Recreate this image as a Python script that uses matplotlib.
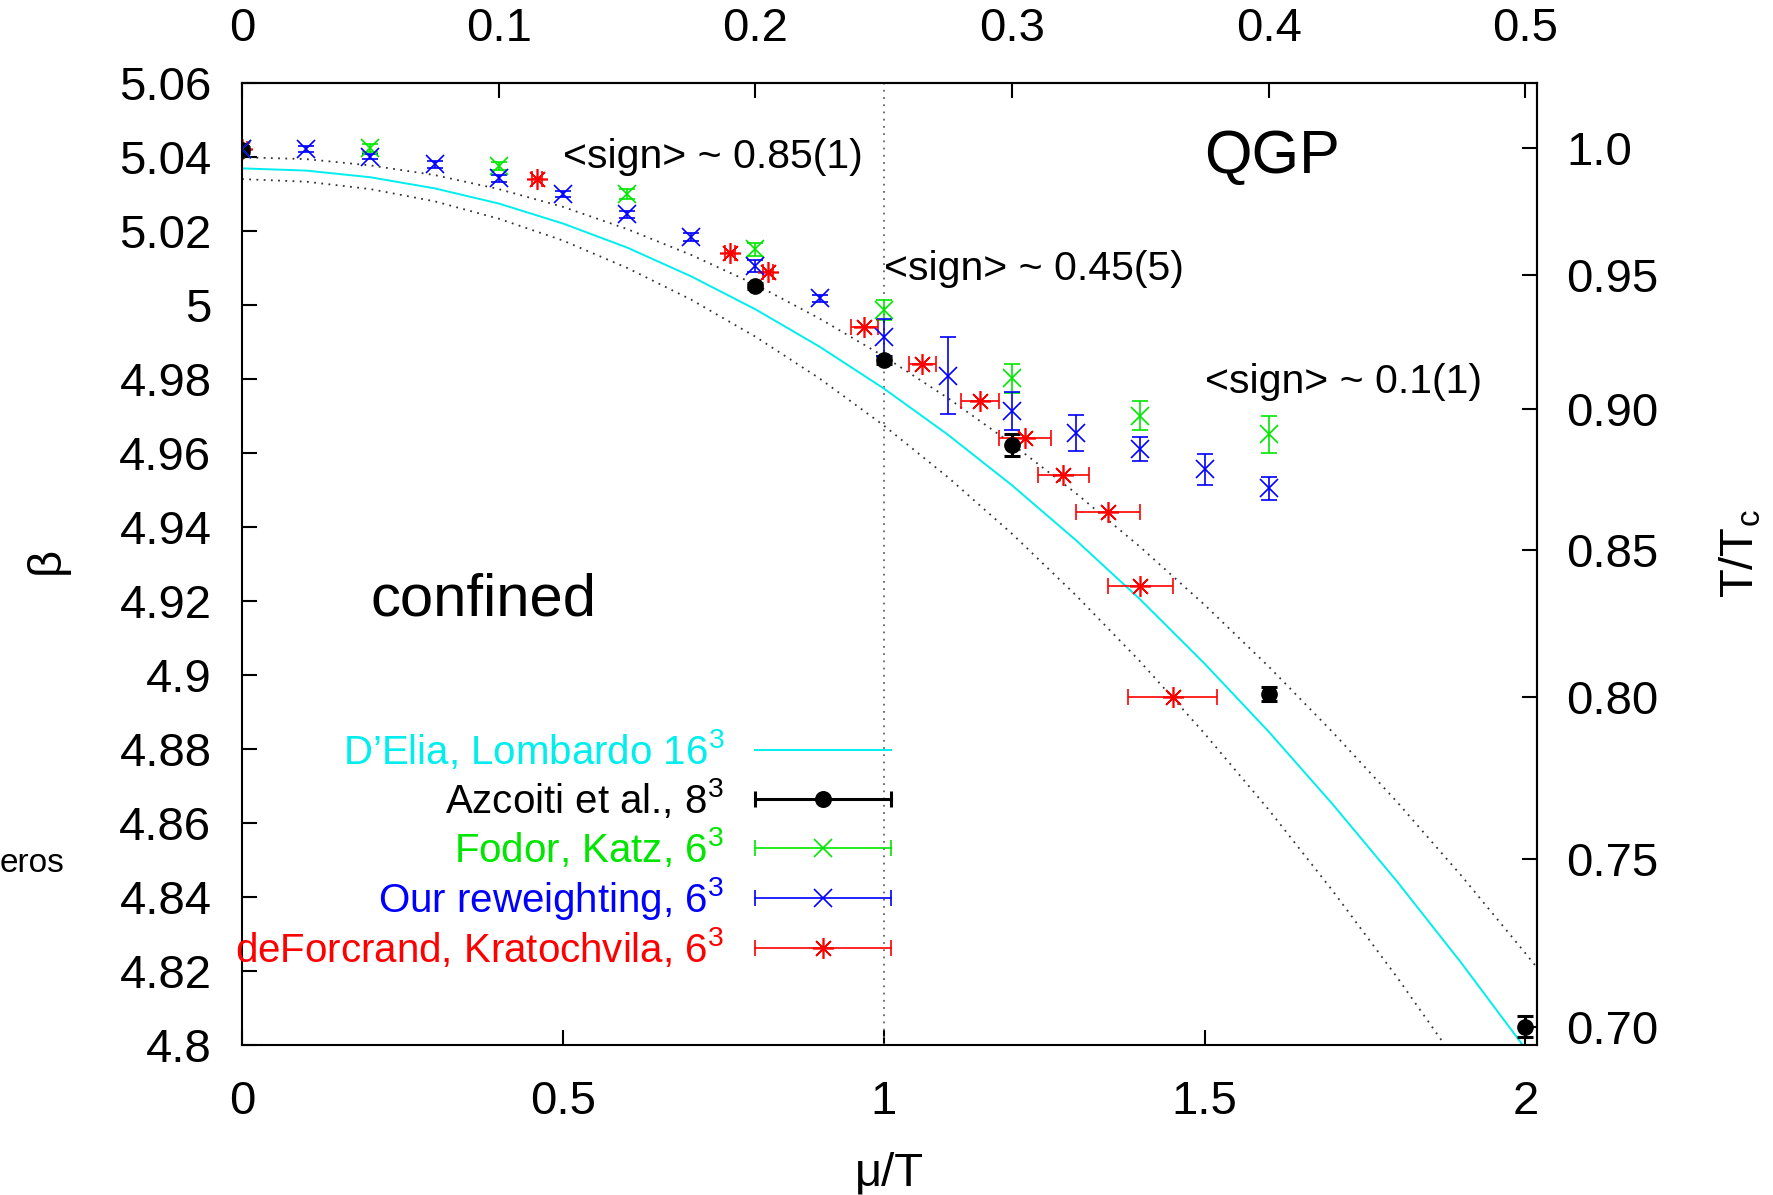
import numpy as np
import matplotlib
matplotlib.use('Agg')
import matplotlib.pyplot as plt
from matplotlib.lines import Line2D
from matplotlib.legend_handler import HandlerLine2D, HandlerTuple
from matplotlib import ticker

plt.rcParams['font.family'] = ['Liberation Sans', 'DejaVu Sans']
plt.rcParams['mathtext.fontset'] = 'custom'
plt.rcParams['mathtext.rm'] = 'Liberation Sans'
plt.rcParams['mathtext.it'] = 'Liberation Sans:italic'

# D'Elia-Lombardo fit (cyan) and its error band (dotted)
mu_fit = [0.0, 0.1, 0.2, 0.3, 0.4, 0.5, 0.6, 0.7, 0.8, 0.9, 1.0,
          1.1, 1.2, 1.3, 1.4, 1.5, 1.6, 1.7, 1.8, 1.9, 2.0, 2.02]
beta_fit = [5.0370, 5.0364, 5.0346, 5.0316, 5.0275, 5.0221, 5.0156, 5.0078,
            4.9989, 4.9888, 4.9775, 4.9650, 4.9513, 4.9364, 4.9204, 4.9031,
            4.8847, 4.8650, 4.8442, 4.8222, 4.7990, 4.7942]
beta_band_hi = [5.0400, 5.0395, 5.0378, 5.0352, 5.0314, 5.0266, 5.0206, 5.0136,
                5.0056, 4.9964, 4.9862, 4.9749, 4.9625, 4.9491, 4.9346, 4.9190,
                4.9023, 4.8845, 4.8657, 4.8458, 4.8248, 4.8205]
beta_band_lo = [5.0341, 5.0334, 5.0314, 5.0281, 5.0234, 5.0175, 5.0101, 5.0015,
                4.9915, 4.9802, 4.9675, 4.9535, 4.9382, 4.9215, 4.9036, 4.8842,
                4.8636, 4.8416, 4.8183, 4.7937, 4.7677, 4.7623]

# Azcoiti et al., 8^3
az_mu = [0.0, 0.8, 1.0, 1.2, 1.6, 2.0]
az_beta = [5.0420, 5.0053, 4.9852, 4.9622, 4.8949, 4.8050]
az_err = [0.0008, 0.0008, 0.0010, 0.0030, 0.0020, 0.0029]

# Fodor, Katz, 6^3
fk_mu = [0.0, 0.2, 0.4, 0.6, 0.8, 1.0, 1.2, 1.4, 1.6]
fk_beta = [5.0422, 5.0426, 5.0376, 5.0301, 5.0151, 4.9987, 4.9802, 4.9701, 4.9651]
fk_err = [0.0008, 0.0011, 0.0011, 0.0014, 0.0018, 0.0027, 0.0039, 0.0039, 0.0050]

# our reweighting, 6^3
rw_mu = [0.0, 0.1, 0.2, 0.3, 0.4, 0.5, 0.6, 0.7, 0.8, 0.9, 1.0, 1.1, 1.2,
         1.3, 1.4, 1.5, 1.6]
rw_beta = [5.0422, 5.0422, 5.0402, 5.0381, 5.0343, 5.0301, 5.0246, 5.0184,
           5.0106, 5.0019, 4.9913, 4.9809, 4.9715, 4.9654, 4.9611, 4.9556, 4.9505]
rw_err = [0.0008, 0.0008, 0.0008, 0.0009, 0.0009, 0.0009, 0.0010, 0.0010,
          0.0015, 0.0010, 0.0050, 0.0104, 0.0051, 0.0048, 0.0033, 0.0042, 0.0031]

# deForcrand, Kratochvila, 6^3 (errors in mu/T)
dk_mu = [0.0, 0.46, 0.76, 0.82, 0.97, 1.06, 1.15, 1.22, 1.28, 1.35, 1.40, 1.45]
dk_beta = [5.0422, 5.0341, 5.0142, 5.0091, 4.9940, 4.9841, 4.9741, 4.9640,
           4.9541, 4.9442, 4.9242, 4.8942]
dk_err = [0.008, 0.008, 0.008, 0.008, 0.021, 0.021, 0.030, 0.040, 0.040,
          0.050, 0.050, 0.070]

# right axis: T/Tc labels and the beta where they sit
tc_labels = ['0.70', '0.75', '0.80', '0.85', '0.90', '0.95', '1.0']
tc_beta = [4.8049, 4.8502, 4.8942, 4.9338, 4.9720, 5.0082, 5.0424]

GREEN = '#00e600'
CYAN = '#00eeee'
STAR = (8, 2, 0)
FS = 34

fig = plt.figure(figsize=(17.73, 11.95), dpi=100)
ax = fig.add_axes([0.1365, 0.1255, 0.7304, 0.8048])

ax.plot(mu_fit, beta_band_hi, color='#333333', lw=1.3, ls=(0, (1, 3)))
ax.plot(mu_fit, beta_band_lo, color='#333333', lw=1.3, ls=(0, (1, 3)))
ax.axvline(1.0, color='#666666', lw=1.3, ls=(0, (1, 3)))
ax.plot(mu_fit, beta_fit, color=CYAN, lw=1.4)

ax.errorbar(az_mu, az_beta, yerr=az_err, fmt='o', color='black', ms=11,
            elinewidth=2.2, capsize=5.5, capthick=2.2)
ax.errorbar(fk_mu, fk_beta, yerr=fk_err, fmt='x', color=GREEN, ms=13, mew=1.2,
            elinewidth=1.2, capsize=6, capthick=1.2)
ax.errorbar(rw_mu, rw_beta, yerr=rw_err, fmt='x', color='blue', ms=13, mew=1.2,
            elinewidth=1.2, capsize=6, capthick=1.2)
ax.errorbar(dk_mu, dk_beta, xerr=dk_err, fmt='none', ecolor='red',
            elinewidth=1.2, capsize=5.5, capthick=1.2)
ax.plot(dk_mu, dk_beta, ls='none', marker=STAR, color='red', ms=15, mew=1.2)

ax.set_xlim(0, 2.018)
ax.set_ylim(4.8, 5.06)
ax.set_xticks([0, 0.5, 1, 1.5, 2])
ax.set_yticks(np.arange(4.8, 5.0601, 0.02))
ax.xaxis.set_major_formatter(ticker.FormatStrFormatter('%g'))
ax.yaxis.set_major_formatter(ticker.FuncFormatter(lambda v, p: '%g' % round(v, 2)))
ax.tick_params(axis='x', direction='in', length=11, width=1.5, labelsize=FS,
               pad=25, top=False)
ax.tick_params(axis='y', direction='in', length=11, width=1.5, labelsize=FS,
               pad=22, right=False)
for s in ax.spines.values():
    s.set_linewidth(1.5)

top = ax.secondary_xaxis('top', functions=(lambda x: x / 4, lambda x: x * 4))
top.set_xticks([0, 0.1, 0.2, 0.3, 0.4, 0.5])
top.xaxis.set_major_formatter(ticker.FormatStrFormatter('%g'))
top.tick_params(direction='in', length=11, width=1.5, labelsize=FS, pad=23)
top.spines['top'].set_linewidth(1.5)

right = ax.secondary_yaxis('right')
right.set_yticks(tc_beta, labels=tc_labels)
right.tick_params(direction='in', length=11, width=1.5, labelsize=FS, pad=21)
right.spines['right'].set_linewidth(1.5)

ax.set_xlabel('μ/T', fontsize=FS, labelpad=20)
ax.text(-0.1506, 0.5043, 'β', transform=ax.transAxes, rotation=90,
        ha='center', va='center', fontsize=FS)
ax.text(1.1575, 0.5106, 'T/T$_\\mathrm{c}$', transform=ax.transAxes, rotation=90,
        ha='center', va='center', fontsize=FS)

ax.text(0.5, 5.040, '<sign> ~ 0.85(1)', fontsize=29.5, va='center')
ax.text(1.0, 5.0098, '<sign> ~ 0.45(5)', fontsize=29.5, va='center')
ax.text(1.5, 4.9792, '<sign> ~ 0.1(1)', fontsize=29.5, va='center')
ax.text(1.5, 5.040, 'QGP', fontsize=44, va='center')
ax.text(0.2, 4.9203, 'confined', fontsize=43, va='center')
fig.text(0.0, 1 - 863 / 1195, 'eros', fontsize=24, ha='left', va='center')

# gnuplot-like keys: bar with end caps and the point in the middle
hmap = {}
def key(color, marker, lw, ms):
    bar = Line2D([], [], color=color, lw=lw, marker='|', ms=11, mew=lw)
    dot = Line2D([], [], color=color, ls='none', marker=marker, ms=ms, mew=1.2)
    hmap[bar] = HandlerLine2D(numpoints=2, marker_pad=0)
    hmap[dot] = HandlerLine2D(numpoints=1)
    return (bar, dot)

handles = [Line2D([], [], color=CYAN, lw=1.4),
           key('black', 'o', 2.2, 11),
           key(GREEN, 'x', 1.2, 13),
           key('blue', 'x', 1.2, 13),
           key('red', STAR, 1.2, 15)]
labels = ['D’Elia, Lombardo 16$^3$', 'Azcoiti et al., 8$^3$', 'Fodor, Katz, 6$^3$',
          'Our reweighting, 6$^3$', 'deForcrand, Kratochvila, 6$^3$']
hmap[tuple] = HandlerTuple(ndivide=1, pad=0)
ax.legend(handles, labels, handler_map=hmap, loc='center right',
          bbox_to_anchor=(0.501, 0.2035), frameon=False, markerfirst=False,
          fontsize=29, handlelength=3.37, handletextpad=0.77, labelspacing=0.12,
          borderpad=0, borderaxespad=0,
          labelcolor=[CYAN, 'black', GREEN, 'blue', 'red'])

fig.savefig('out.png', dpi=100)
